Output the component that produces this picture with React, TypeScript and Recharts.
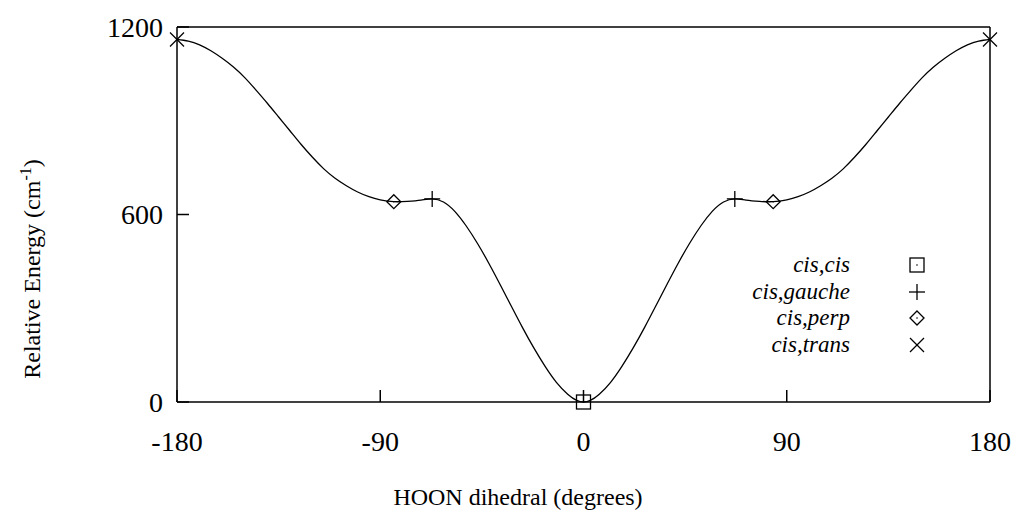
import { ComposedChart, Line, Scatter, XAxis, YAxis, Legend } from 'recharts';

// HOON dihedral (deg) and relative energy (cm-1) along the torsional curve
const curveDeg = [
  -180, -175, -170, -165, -160, -155, -150, -145, -140, -135, -130, -125, -120, -115, -110, -105, -100, -95, -90,
  -84, -78, -72, -67, -62, -57, -52, -47, -42, -37, -32, -27, -22, -17, -12, -7, -3, 0,
  3, 7, 12, 17, 22, 27, 32, 37, 42, 47, 52, 57, 62, 67, 72, 78, 84,
  90, 95, 100, 105, 110, 115, 120, 125, 130, 135, 140, 145, 150, 155, 160, 165, 170, 175, 180,
];
const curveEnergy = [
  1160, 1155, 1143, 1124, 1100, 1072, 1038, 998, 956, 912, 868, 824, 783, 746, 716, 692, 672, 657, 647,
  641, 642, 646, 650, 640, 610, 564, 508, 445, 377, 307, 238, 173, 114, 63, 25, 5, 0,
  5, 25, 63, 114, 173, 238, 307, 377, 445, 508, 564, 610, 640, 650, 646, 642, 641,
  647, 657, 672, 692, 716, 746, 783, 824, 868, 912, 956, 998, 1038, 1072, 1100, 1124, 1143, 1155, 1160,
];

const cisCis = [{ x: 0, y: 0 }];
const cisGauche = [{ x: -67, y: 650 }, { x: 67, y: 650 }];
const cisPerp = [{ x: -84, y: 641 }, { x: 84, y: 641 }];
const cisTrans = [{ x: -180, y: 1160 }, { x: 180, y: 1160 }];

const xTicks = [-180, -90, 0, 90, 180];
const yTicks = [0, 600, 1200];

const curve = curveDeg.map((x, i) => ({ x, y: curveEnergy[i] }));

const FONT = '"Liberation Serif", "DejaVu Serif", serif';
const INK = '#000';

type MarkerKind = 'box' | 'plus' | 'diamond' | 'cross';

function Marker({ kind, cx, cy }: { kind: MarkerKind; cx: number; cy: number }) {
  const s = 7;
  if (kind === 'box') {
    return (
      <g>
        <rect x={cx - s} y={cy - s} width={2 * s} height={2 * s} fill="none" stroke={INK} strokeWidth={1.3} />
        <circle cx={cx} cy={cy} r={0.8} fill={INK} />
      </g>
    );
  }
  if (kind === 'plus') {
    return (
      <g stroke={INK} strokeWidth={1.3}>
        <line x1={cx - 8} y1={cy} x2={cx + 8} y2={cy} />
        <line x1={cx} y1={cy - 8} x2={cx} y2={cy + 8} />
      </g>
    );
  }
  if (kind === 'diamond') {
    return (
      <g>
        <polygon
          points={`${cx},${cy - s} ${cx + s},${cy} ${cx},${cy + s} ${cx - s},${cy}`}
          fill="none"
          stroke={INK}
          strokeWidth={1.3}
        />
        <circle cx={cx} cy={cy} r={0.8} fill={INK} />
      </g>
    );
  }
  return (
    <g stroke={INK} strokeWidth={1.3}>
      <line x1={cx - 7} y1={cy - 7} x2={cx + 7} y2={cy + 7} />
      <line x1={cx - 7} y1={cy + 7} x2={cx + 7} y2={cy - 7} />
    </g>
  );
}

const legendRows: { label: string; kind: MarkerKind }[] = [
  { label: 'cis,cis', kind: 'box' },
  { label: 'cis,gauche', kind: 'plus' },
  { label: 'cis,perp', kind: 'diamond' },
  { label: 'cis,trans', kind: 'cross' },
];

function LegendBox() {
  return (
    <div style={{ fontFamily: FONT, fontSize: 23, fontStyle: 'italic', color: INK }}>
      {legendRows.map((r) => (
        <div key={r.label} style={{ display: 'flex', alignItems: 'center', height: 26.5 }}>
          <span style={{ width: 150, textAlign: 'right', lineHeight: '26px', whiteSpace: 'nowrap' }}>{r.label}</span>
          <svg width={24} height={24} style={{ marginLeft: 55, flexShrink: 0 }}>
            <Marker kind={r.kind} cx={12} cy={12} />
          </svg>
        </div>
      ))}
    </div>
  );
}

const shapeOf = (kind: MarkerKind) => (p: any) => <Marker kind={kind} cx={p.cx} cy={p.cy} />;

export default function App() {
  return (
    <div style={{ position: 'absolute', left: 0, top: 0, background: '#fff' }}>
      <ComposedChart width={1017} height={525} margin={{ top: 26, right: 26, left: 0, bottom: 0 }}>
        <XAxis
          xAxisId="bottom"
          dataKey="x"
          type="number"
          domain={[-180, 180]}
          ticks={xTicks}
          height={123}
          stroke={INK}
          strokeWidth={1.5}
          tickSize={-12}
          tickMargin={41}
          tick={{ fill: INK, fontSize: 28, fontFamily: FONT }}
          label={{
            content: () => (
              <text x={518} y={505} textAnchor="middle" fontFamily={FONT} fontSize={24} fill={INK}>
                HOON dihedral (degrees)
              </text>
            ),
          }}
        />
        <XAxis
          xAxisId="top"
          orientation="top"
          dataKey="x"
          type="number"
          domain={[-180, 180]}
          ticks={xTicks}
          height={1}
          stroke={INK}
          strokeWidth={1.5}
          tickSize={-12}
          tick={false}
        />
        <YAxis
          yAxisId="left"
          dataKey="y"
          type="number"
          domain={[0, 1200]}
          ticks={yTicks}
          width={177}
          stroke={INK}
          strokeWidth={1.5}
          tickSize={-12}
          tickMargin={26}
          tick={{ fill: INK, fontSize: 28, fontFamily: FONT }}
          label={{
            content: () => (
              <text
                transform="translate(40,269) rotate(-90)"
                textAnchor="middle"
                fontFamily={FONT}
                fontSize={24}
                fill={INK}
              >
                Relative Energy (cm
                <tspan dy={-9} fontSize={16}>-1</tspan>
                <tspan dy={9}>)</tspan>
              </text>
            ),
          }}
        />
        <YAxis
          yAxisId="right"
          orientation="right"
          dataKey="y"
          type="number"
          domain={[0, 1200]}
          ticks={yTicks}
          width={1}
          stroke={INK}
          strokeWidth={1.5}
          tickSize={-12}
          tick={false}
        />
        <Legend
          layout="vertical"
          align="center"
          verticalAlign="middle"
          wrapperStyle={{ position: 'absolute', left: 700, top: 252, width: 260 }}
          content={() => <LegendBox />}
        />
        <Line
          xAxisId="bottom"
          yAxisId="left"
          data={curve}
          dataKey="y"
          type="natural"
          stroke={INK}
          strokeWidth={1.3}
          dot={false}
          activeDot={false}
          isAnimationActive={false}
        />
        <Scatter xAxisId="bottom" yAxisId="left" data={cisCis} dataKey="y" shape={shapeOf('box')} isAnimationActive={false} />
        <Scatter xAxisId="bottom" yAxisId="left" data={cisGauche} dataKey="y" shape={shapeOf('plus')} isAnimationActive={false} />
        <Scatter xAxisId="bottom" yAxisId="left" data={cisPerp} dataKey="y" shape={shapeOf('diamond')} isAnimationActive={false} />
        <Scatter xAxisId="bottom" yAxisId="left" data={cisTrans} dataKey="y" shape={shapeOf('cross')} isAnimationActive={false} />
      </ComposedChart>
    </div>
  );
}
